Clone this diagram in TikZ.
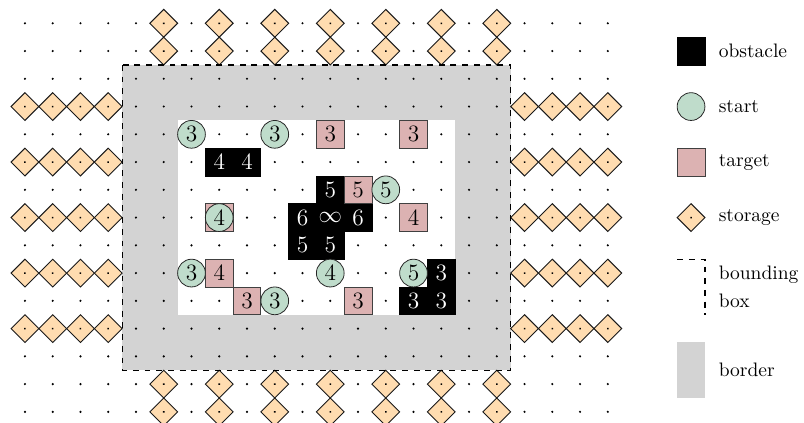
\documentclass[tikz,border=0pt]{standalone}
\usepackage{amsmath,amssymb}
\usepackage{xcolor}
\usepackage{tikz}
\definecolor{bordergray}{HTML}{D3D3D3}
\definecolor{startbg}{HTML}{BFDCCB}
\definecolor{targetbg}{HTML}{DCB2B2}
\definecolor{storebg}{HTML}{FFDCB0}

\begin{document}
\begin{tikzpicture}[x=0.5cm, y=-0.5cm,
  gridpt/.style={circle, fill=black, inner sep=0pt, minimum size=1.2pt},
  obst/.style={draw=black, fill=black, text=white, minimum size=0.5cm, inner sep=0pt, font=\large},
  startc/.style={circle, draw=black!85, fill=startbg, minimum size=0.5cm, inner sep=0pt, font=\large},
  targ/.style={draw=black!75, fill=targetbg, minimum size=0.5cm, inner sep=0pt, font=\large},
  store/.style={draw=black!90, line width=0.5pt, fill=storebg, rotate=45, minimum size=0.3536cm, inner sep=0pt,
    path picture={\fill[black] (path picture bounding box.center) circle (0.55pt);}}]
  \useasboundingbox (-0.9,-0.84) rectangle (28.07,14.40);

  % Border ring (2 cells wide) around the free 10x7 area
  \fill[bordergray] (3.5,1.5) rectangle (17.5,12.5);
  \fill[white] (5.5,3.5) rectangle (15.5,10.5);

  % Grid points
  \foreach \c in {0,...,21} {
    \foreach \r in {0,...,14} {
      \node[gridpt] (p-\c-\r) at (\c,\r) {};
    }
  }

  % Storage: above/below (rows 0,1,13,14), left/right (cols 0-3, 18-21)
  \foreach \c in {5,7,...,17} {
    \foreach \r in {0,1,13,14} {
      \node[store] (st-\c-\r) at (\c,\r) {};
    }
  }
  \foreach \c in {0,1,2,3,18,19,20,21} {
    \foreach \r in {3,5,...,11} {
      \node[store] (st-\c-\r) at (\c,\r) {};
    }
  }

  % Bounding box
  \draw[semithick, dashed] (3.5,1.5) rectangle (17.5,12.5);

  % Obstacles
  \foreach \i/\c/\r/\v in {1/7/5/4, 2/8/5/4, 3/11/6/5, 4/10/7/6, 5/11/7/\infty,
      6/12/7/6, 7/10/8/5, 8/11/8/5, 9/15/9/3, 10/14/10/3, 11/15/10/3} {
    \node[obst] (ob\i) at (\c,\r) {$\v$};
  }

  % Targets
  \foreach \i/\c/\r/\v in {1/11/4/3, 2/14/4/3, 3/12/6/5, 4/7/7/4, 5/14/7/4,
      6/7/9/4, 7/8/10/3, 8/12/10/3} {
    \node[targ] (tg\i) at (\c,\r) {$\v$};
  }

  % Starts
  \foreach \i/\c/\r/\v in {1/6/4/3, 2/9/4/3, 3/13/6/5, 4/7/7/4, 5/6/9/3,
      6/11/9/4, 7/14/9/5, 8/9/10/3} {
    \node[startc] (sc\i) at (\c,\r) {$\v$};
  }

  % Legend
  \node[obst] (lg-ob) at (24,1) {};
  \node[anchor=west] (lt-ob) at (24.75,1) {obstacle};
  \node[startc] (lg-sc) at (24,3) {};
  \node[anchor=west] (lt-sc) at (24.75,3) {start};
  \node[targ] (lg-tg) at (24,5) {};
  \node[anchor=west] (lt-tg) at (24.75,5) {target};
  \node[store] (lg-st) at (24,7) {};
  \node[anchor=west] (lt-st) at (24.75,7) {storage};
  \draw[semithick, dashed] (23.5,8.5) -| (24.5,10.5);
  \node[anchor=west, align=left] (lt-bb) at (24.75,9.5) {bounding\\[2.2pt]box};
  \fill[bordergray] (23.5,11.5) rectangle (24.5,13.5);
  \node[anchor=west] (lt-bd) at (24.75,12.5) {border};
\end{tikzpicture}
\end{document}
